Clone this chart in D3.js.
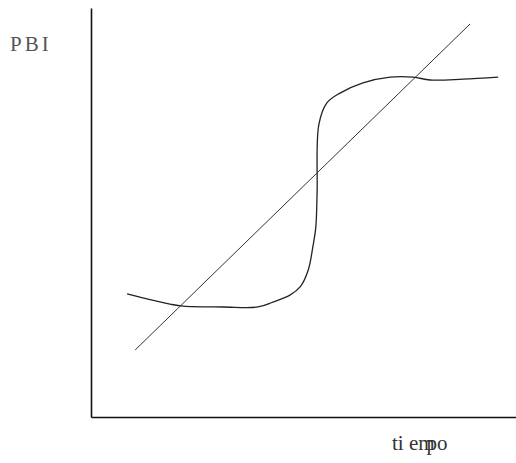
<!DOCTYPE html>
<html>
<head>
<meta charset="utf-8">
<script src="https://cdn.jsdelivr.net/npm/d3@7"></script>
<style>
  html, body { margin: 0; padding: 0; background: #fff; }
  #chart { width: 516px; height: 463px; }
</style>
</head>
<body>
<div id="chart"></div>
<script>
// S-curve of PBI over time (hand-drawn shape)
const curveTime = [8.5, 11.5, 18.6, 21.7, 31.1, 39.3, 42.8, 46.8, 49.2, 51.1, 52.2, 52.9, 53.2, 53.6, 55.5, 58.6, 64.0, 70.4, 75.8, 79.8, 87.5, 95.8];
const curvePbi  = [30.1, 29.3, 27.6, 27.1, 26.9, 26.9, 28.1, 29.8, 31.8, 35.9, 41.6, 46.5, 54.8, 71.4, 76.8, 79.2, 81.7, 83.1, 83.1, 82.4, 82.6, 83.1];

// straight trend line
const trendTime = [10.4, 89.2];
const trendPbi  = [16.4, 96.1];

const xLabel = 'ti empo';
const yLabel = 'PBI';

const width = 516;
const height = 463;

const svg = d3.select('#chart').append('svg')
    .attr('width', width)
    .attr('height', height);

const x = d3.scaleLinear().domain([0, 100]).range([91, 516]);
const y = d3.scaleLinear().domain([0, 100]).range([417, 8]);

// axes: plain lines, no ticks
svg.append('g')
    .attr('transform', `translate(0,${y(0)})`)
    .call(d3.axisBottom(x).ticks(0).tickSizeOuter(0))
    .select('.domain')
    .attr('stroke', '#111')
    .attr('stroke-width', 1.6);

svg.append('g')
    .attr('transform', `translate(${x(0)},0)`)
    .call(d3.axisLeft(y).ticks(0).tickSizeOuter(0))
    .select('.domain')
    .attr('stroke', '#111')
    .attr('stroke-width', 1.6);

// curve
const curveData = curveTime.map((t, i) => ({ t: t, v: curvePbi[i] }));
const line = d3.line()
    .x(d => x(d.t))
    .y(d => y(d.v))
    .curve(d3.curveCatmullRom.alpha(0.5));

svg.append('path')
    .datum(curveData)
    .attr('d', line)
    .attr('fill', 'none')
    .attr('stroke', '#222')
    .attr('stroke-width', 1.3);

// trend line
const trendData = trendTime.map((t, i) => ({ t: t, v: trendPbi[i] }));
svg.append('path')
    .datum(trendData)
    .attr('d', d3.line().x(d => x(d.t)).y(d => y(d.v)))
    .attr('fill', 'none')
    .attr('stroke', '#333')
    .attr('stroke-width', 1);

// labels
svg.append('text')
    .attr('x', 10)
    .attr('y', 51)
    .style('font-family', '"Liberation Serif", "DejaVu Serif", serif')
    .style('font-size', '21px')
    .style('letter-spacing', '3px')
    .style('fill', '#555')
    .text(yLabel);

// the "p" sits on top of the "m" in the original
const xl = svg.append('text')
    .attr('x', 392)
    .attr('y', 450)
    .style('font-family', '"Liberation Serif", "DejaVu Serif", serif')
    .style('font-size', '21px')
    .style('fill', '#333');
xl.append('tspan').text(xLabel.slice(0, 5));
xl.append('tspan').attr('dx', -8).text(xLabel.slice(5, 6));
xl.append('tspan').text(xLabel.slice(6));
</script>
</body>
</html>
